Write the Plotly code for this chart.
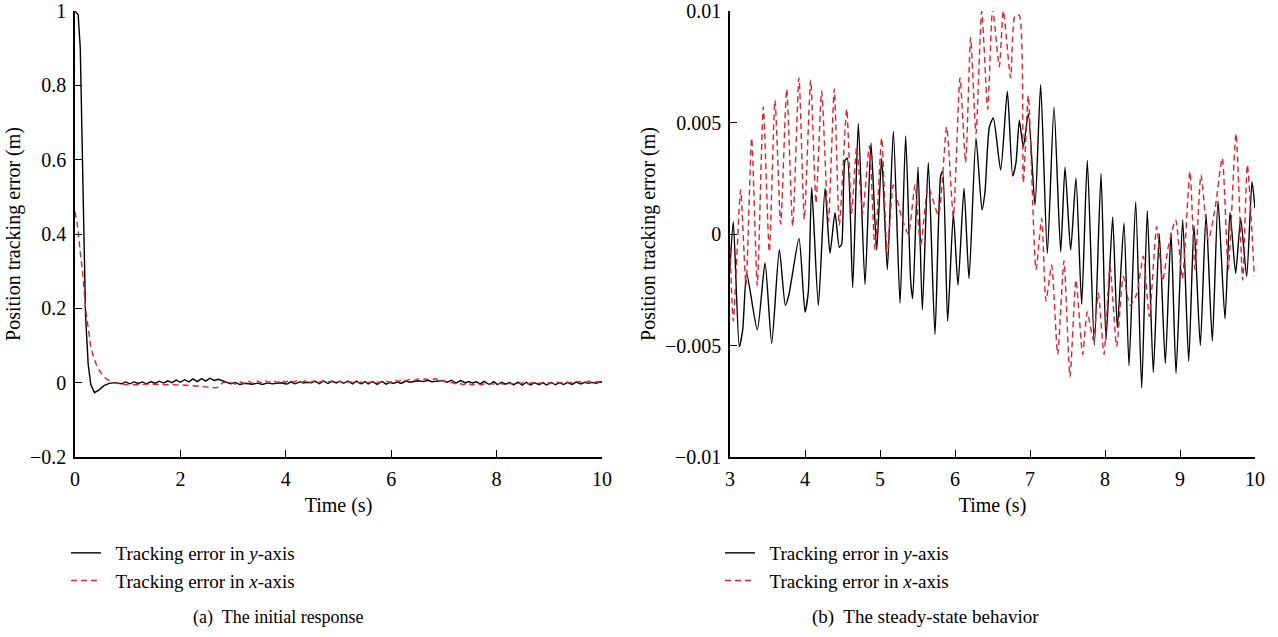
import plotly.graph_objects as go

# ---------------- data ----------------
# initial response (0-3 s), metres
t_init_y = [0.0, 0.06, 0.10, 0.12, 0.14, 0.17, 0.20, 0.25, 0.30, 0.37, 0.45, 0.55, 0.65, 0.75,
            0.88, 0.96, 1.04, 1.12, 1.20, 1.28, 1.36, 1.44, 1.52, 1.60, 1.68, 1.76, 1.84, 1.92,
            2.00, 2.08, 2.16, 2.24, 2.32, 2.40, 2.48, 2.56, 2.64, 2.72, 2.80, 2.88, 2.96]
e_init_y = [1.0, 0.99, 0.90, 0.75, 0.55, 0.33, 0.18, 0.05, -0.005, -0.027, -0.020, -0.008, -0.002, 0.0,
            -0.003, 0.002, -0.003, 0.002, -0.002, 0.002, -0.003, 0.003, -0.002, 0.004, -0.001, 0.005, 0.0, 0.007,
            0.001, 0.008, 0.002, 0.010, 0.003, 0.011, 0.004, 0.012, 0.006, 0.009, 0.004, 0.001, -0.003]

t_init_x = [0.0, 0.05, 0.10, 0.15, 0.20, 0.25, 0.30, 0.35, 0.42, 0.50, 0.58, 0.70, 0.85,
            1.00, 1.20, 1.40, 1.60, 1.80, 2.00, 2.20, 2.40, 2.60, 2.70, 2.75, 2.80, 2.90, 2.96]
e_init_x = [0.46, 0.42, 0.35, 0.29, 0.20, 0.14, 0.097, 0.07, 0.043, 0.025, 0.012, 0.0, -0.004,
            -0.006, -0.005, -0.004, -0.005, -0.005, -0.006, -0.008, -0.010, -0.012, -0.014, -0.008, 0.0, 0.002, -0.001]

# steady-state (3-10 s), in millimetres
t_ss_y = [3.000, 3.044, 3.124, 3.169, 3.222, 3.364, 3.467, 3.556, 3.658, 3.738, 3.787, 3.920, 4.000,
          4.044, 4.089, 4.178, 4.267, 4.333, 4.400, 4.458, 4.489, 4.533, 4.564, 4.636, 4.711, 4.800,
          4.880, 4.956, 5.022, 5.098, 5.178, 5.267, 5.342, 5.409, 5.436, 5.507, 5.564, 5.644, 5.733,
          5.809, 5.836, 5.902, 5.978, 6.040, 6.120, 6.187, 6.280, 6.360, 6.400, 6.458, 6.511, 6.609,
          6.698, 6.769, 6.813, 6.858, 6.911, 6.978, 7.067, 7.142, 7.231, 7.320, 7.409, 7.467, 7.542,
          7.613, 7.689, 7.764, 7.858, 7.947, 8.013, 8.102, 8.164, 8.253, 8.320, 8.409, 8.489, 8.564,
          8.644, 8.724, 8.804, 8.880, 8.947, 9.036, 9.116, 9.187, 9.271, 9.347, 9.431, 9.507, 9.600,
          9.667, 9.742, 9.809, 9.889, 9.960, 10.0]
e_ss_y = [-1.5, 0.55, -5.05, -4.3, -1.76, -4.3, -1.3, -4.9, -0.7, -3.2, -2.7, -0.2, -3.5,
          -2.6, 2.1, -3.2, 2.05, -0.87, 0.96, -0.6, -0.45, 3.3, 3.4, -2.4, 4.96, -2.26,
          4.07, -0.72, 3.4, -1.6, 4.6, -3.1, 4.4, -2.1, -2.9, 3.0, -3.4, 3.2, -4.5,
          2.6, 2.8, -3.9, 0.9, -2.3, 2.05, -2.0, 4.3, 1.08, 1.9, 4.8, 5.2, 2.87,
          6.4, 2.6, 3.2, 5.1, 3.9, 5.4, 1.3, 6.7, -0.87, 5.7, -0.8, 3.0, -0.72,
          2.5, -3.15, 3.3, -5.0, 2.7, -4.75, 0.75, -4.2, 0.48, -5.9, 1.45, -6.9, 1.05,
          -6.2, 0.0, -5.8, 0.07, -6.25, 0.63, -5.7, 0.37, -5.0, 0.9, -4.8, 1.48, -3.8,
          0.97, -1.76, 0.7, -1.9, 2.35, 1.15]

t_ss_x = [3.000, 3.044, 3.142, 3.213, 3.289, 3.364, 3.444, 3.524, 3.600, 3.676, 3.756, 3.836, 3.920,
          3.991, 4.076, 4.147, 4.222, 4.311, 4.391, 4.458, 4.556, 4.622, 4.689, 4.769, 4.858, 4.933,
          5.022, 5.098, 5.178, 5.276, 5.378, 5.467, 5.542, 5.644, 5.778, 5.889, 5.978, 6.067, 6.142,
          6.209, 6.280, 6.356, 6.436, 6.502, 6.591, 6.644, 6.742, 6.800, 6.858, 6.911, 6.978, 7.080,
          7.156, 7.213, 7.289, 7.369, 7.453, 7.533, 7.613, 7.702, 7.764, 7.844, 7.911, 7.987, 8.067,
          8.156, 8.244, 8.333, 8.422, 8.511, 8.591, 8.689, 8.769, 8.844, 8.942, 9.031, 9.133, 9.200,
          9.280, 9.378, 9.470, 9.564, 9.644, 9.747, 9.836, 9.898, 9.991]
e_ss_x = [-0.6, -3.9, 1.97, -2.3, 4.3, -2.3, 5.7, -0.8, 6.0, 0.45, 6.5, 0.36, 7.0,
          0.66, 6.9, 1.38, 6.4, 0.55, 6.5, 0.4, 5.6, 0.93, 3.9, 0.93, 3.95, -0.69,
          4.3, -0.94, 2.2, 0.9, 0.0, 2.2, -0.57, 2.1, 0.85, 4.8, 0.78, 7.0, 3.2,
          8.8, 4.5, 10.0, 5.6, 10.1, 7.5, 10.0, 7.0, 9.8, 9.8, 2.3, 6.2, -1.6,
          0.7, -3.0, -1.4, -5.4, -1.2, -6.4, -2.06, -5.4, -3.5, -4.75, -2.66, -5.4, -1.46,
          -5.05, -1.9, -3.2, -2.7, -1.0, -3.7, 0.33, -2.1, -0.57, 0.63, -2.0, 2.8, -1.6,
          2.65, -0.27, 1.2, 3.4, -1.6, 4.5, -2.06, 3.1, -1.9]

name_y = "\u00a0\u00a0Tracking error in <i>y</i>-axis"
name_x = "\u00a0\u00a0Tracking error in <i>x</i>-axis"
RED = "#d9232e"
FONT = "Liberation Serif"

ss_y_m = [v * 1e-3 for v in e_ss_y]
ss_x_m = [v * 1e-3 for v in e_ss_x]

fig = go.Figure()
# left panel
fig.add_trace(go.Scatter(x=t_init_y + t_ss_y, y=e_init_y + ss_y_m, mode="lines", name=name_y,
                         line=dict(color="black", width=1.4), xaxis="x", yaxis="y", legend="legend"))
fig.add_trace(go.Scatter(x=t_init_x + t_ss_x, y=e_init_x + ss_x_m, mode="lines", name=name_x,
                         line=dict(color=RED, width=1.4, dash="6px,4px"), xaxis="x", yaxis="y", legend="legend"))
# right panel
fig.add_trace(go.Scatter(x=t_ss_y, y=ss_y_m, mode="lines", name=name_y,
                         line=dict(color="black", width=1.4, shape="spline", smoothing=0.6),
                         xaxis="x2", yaxis="y2", legend="legend2"))
fig.add_trace(go.Scatter(x=t_ss_x, y=ss_x_m, mode="lines", name=name_x,
                         line=dict(color=RED, width=1.4, dash="6px,4px", shape="spline", smoothing=0.6),
                         xaxis="x2", yaxis="y2", legend="legend2"))

W, H = 1278, 637
yd = [1 - 457 / H, 1 - 11 / H]
ax_common = dict(showline=True, linecolor="black", linewidth=1.5, ticks="inside", ticklen=7,
                 tickcolor="black", tickwidth=1.3, showgrid=False, zeroline=False, mirror=False,
                 automargin=False, ticklabelstandoff=3,
                 tickfont=dict(family=FONT, size=20, color="black"),
                 title_font=dict(family=FONT, size=20, color="black"))

legend_common = dict(font=dict(family=FONT, size=19, color="black"), bgcolor="rgba(0,0,0,0)",
                     xanchor="left", yanchor="top", itemwidth=30, tracegroupgap=0)

fig.update_layout(
    width=W, height=H, margin=dict(l=0, r=0, t=0, b=0, autoexpand=False),
    paper_bgcolor="white", plot_bgcolor="white",
    xaxis=dict(domain=[75 / W, 602 / W], range=[0, 10], dtick=2, anchor="y",
               title=dict(text="Time (s)", standoff=9), **ax_common),
    yaxis=dict(domain=yd, range=[-0.2, 1], dtick=0.2, anchor="x",
               title=dict(text="Position tracking error (m)", standoff=4), **ax_common),
    xaxis2=dict(domain=[730 / W, 1255 / W], range=[3, 10], dtick=1, anchor="y2",
                title=dict(text="Time (s)", standoff=9), **ax_common),
    yaxis2=dict(domain=yd, range=[-0.01, 0.01], tickvals=[-0.01, -0.005, 0, 0.005, 0.01],
                ticktext=["\u22120.01", "\u22120.005", "0", "0.005", "0.01"], anchor="x2",
                title=dict(text="Position tracking error (m)", standoff=4), **ax_common),
    legend=dict(x=66 / W, y=1 - 534 / H, **legend_common),
    legend2=dict(x=720 / W, y=1 - 534 / H, **legend_common),
    annotations=[
        dict(text="(a)  The initial response", x=278 / W, y=1 - 617 / H, xref="paper", yref="paper",
             showarrow=False, font=dict(family=FONT, size=18, color="black"), xanchor="center", yanchor="middle"),
        dict(text="(b)  The steady-state behavior", x=925 / W, y=1 - 617 / H, xref="paper", yref="paper",
             showarrow=False, font=dict(family=FONT, size=19, color="black"), xanchor="center", yanchor="middle"),
    ],
)

fig.write_html("out.html")
